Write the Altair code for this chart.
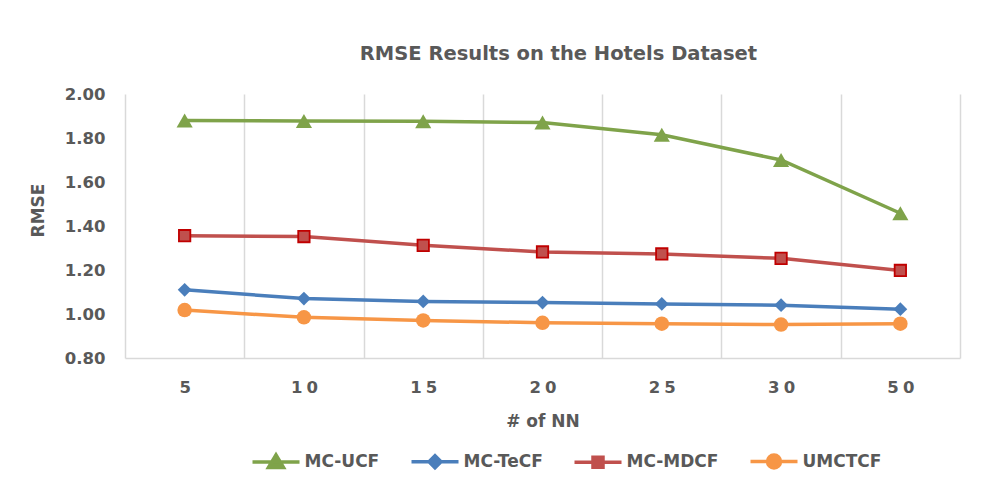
import altair as alt
import pandas as pd

# ---- data ----
nn = ["5", "10", "15", "20", "25", "30", "50"]
series = ["MC-UCF", "MC-TeCF", "MC-MDCF", "UMCTCF"]
mc_ucf = [1.880, 1.877, 1.876, 1.870, 1.815, 1.700, 1.458]
mc_tecf = [1.110, 1.070, 1.057, 1.052, 1.046, 1.040, 1.022]
mc_mdcf = [1.356, 1.352, 1.312, 1.282, 1.273, 1.253, 1.198]
umctcf = [1.018, 0.985, 0.971, 0.960, 0.956, 0.952, 0.956]
y_ticks = [0.8, 1.0, 1.2, 1.4, 1.6, 1.8, 2.0]

colors = ["#7FA34A", "#4A7EBB", "#C0504D", "#F79646"]
marker_shapes = ["triangle-up", "diamond", "square", "circle"]
legend_paths = [
    "M-4.7,0H4.7M-1.5,1.1L0,-1.4L1.5,1.1Z",
    "M-4.7,0H4.7M-1.2,0L0,-1.2L1.2,0L0,1.2Z",
    "M-4.7,0H4.7M-1,-1H1V1H-1Z",
    "M-4.7,0H4.7M-1.3,0A1.3,1.3,0,1,1,1.3,0A1.3,1.3,0,1,1,-1.3,0Z",
]

rows = []
for name, vals in zip(series, [mc_ucf, mc_tecf, mc_mdcf, umctcf]):
    for k, v in zip(nn, vals):
        rows.append({"nn": k, "series": name, "rmse": v})
df = pd.DataFrame(rows)

FONT = "DejaVu Sans"
TXT = "#595959"
GRID = "#D9D9D9"

x_enc = alt.X(
    "nn:O",
    sort=nn,
    scale=alt.Scale(type="band", paddingInner=0, paddingOuter=0),
    axis=alt.Axis(
        title="# of NN",
        tickBand="extent",
        grid=True,
        gridColor=GRID,
        gridWidth=1.5,
        ticks=False,
        domainColor=GRID,
        domainWidth=1.5,
        labelAngle=0,
        labelExpr="join(split(datum.label, ''), '\u2005')",
        labelFont=FONT,
        labelFontSize=16.5,
        labelFontWeight="bold",
        labelColor=TXT,
        labelPadding=21,
        titleFont=FONT,
        titleFontSize=17,
        titleFontWeight="bold",
        titleColor=TXT,
        titlePadding=18,
    ),
)
y_enc = alt.Y(
    "rmse:Q",
    scale=alt.Scale(domain=[0.8, 2.0], nice=False, zero=False),
    axis=alt.Axis(
        title="RMSE",
        values=y_ticks,
        format=".2f",
        grid=False,
        ticks=False,
        domain=False,
        labelFont=FONT,
        labelFontSize=16.5,
        labelFontWeight="bold",
        labelColor=TXT,
        labelPadding=20,
        titleFont=FONT,
        titleFontSize=17,
        titleFontWeight="bold",
        titleColor=TXT,
        titleX=-87,
        titleY=116,
        titleAlign="center",
        titleBaseline="middle",
        titleAngle=270,
    ),
)

base = alt.Chart(df)

leg = alt.Legend(
    title=None,
    orient="none",
    direction="horizontal",
    legendX=126,
    legendY=359,
    symbolSize=100,
    symbolStrokeWidth=3.5,
    symbolOffset=16.5,
    symbolOpacity=1,
    labelOffset=20,
    labelFont=FONT,
    labelFontSize=17,
    labelFontWeight="bold",
    labelColor=TXT,
    columnPadding=24,
)

# legend-only layer (no rows drawn); its scales carry the series order
legend_layer = base.mark_point(filled=True).encode(
    x=x_enc,
    y=y_enc,
    color=alt.Color("series:N", scale=alt.Scale(domain=series, range=colors), legend=leg),
    stroke=alt.Stroke("series:N", scale=alt.Scale(domain=series, range=colors), legend=leg),
    shape=alt.Shape("series:N", scale=alt.Scale(domain=series, range=legend_paths), legend=leg),
).transform_filter("false")

series_layers = []
sizes = [260, 190, 130, 210]
for name, col, shp, sz in zip(series, colors, marker_shapes, sizes):
    sub = base.transform_filter(alt.datum.series == name)
    ln = sub.mark_line(strokeWidth=3.5, color=col).encode(x=x_enc, y=y_enc)
    if name == "MC-MDCF":
        pt = sub.mark_point(shape=shp, filled=True, size=sz, fill=col,
                            stroke="#C00000", strokeWidth=1.8, opacity=1)
    else:
        pt = sub.mark_point(shape=shp, filled=True, size=sz, fill=col, opacity=1)
    series_layers.append(ln)
    series_layers.append(pt.encode(x=x_enc, y=y_enc))

chart = alt.layer(legend_layer, *series_layers).properties(
    width=835,
    height=264,
    padding={"left": 117, "top": 86, "right": 33, "bottom": 130},
    autosize=alt.AutoSizeParams(type="none"),
    title=alt.TitleParams(
        "RMSE Results on the Hotels Dataset",
        font=FONT,
        fontSize=19.5,
        fontWeight="bold",
        color=TXT,
        anchor="middle",
        frame="group",
        baseline="middle",
        dx=16,
        offset=13,
    ),
).configure_view(stroke=None)

chart.save("out.html", embed_options={"renderer": "svg", "actions": False})
